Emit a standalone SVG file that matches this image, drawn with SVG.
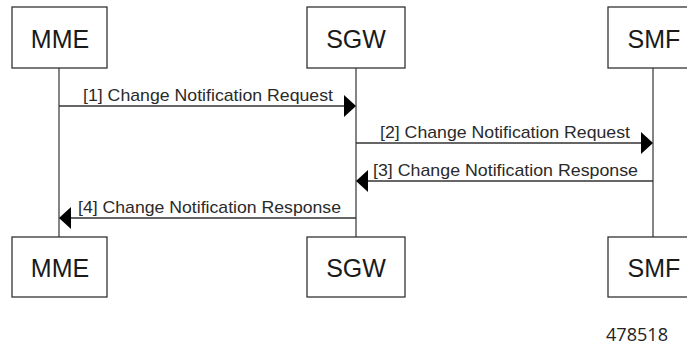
<svg xmlns="http://www.w3.org/2000/svg" width="687" height="345" viewBox="0 0 687 345">
<style>
.box{fill:#fff;stroke:#333;stroke-width:1.3}
.lbl{font-family:"Liberation Sans",Arial,sans-serif;font-size:25px;fill:#1a1a1a;text-anchor:middle}
.life{stroke:#333;stroke-width:1.2}
.msg{stroke:#333;stroke-width:1.3;fill:none}
.mt{font-family:"Liberation Sans",Arial,sans-serif;font-size:17px;fill:#2a2a2a}
.ah{fill:#000}
</style>
<rect width="687" height="345" fill="#fff"/>
<g id="lifelines">
<line class="life" x1="59" y1="68" x2="59" y2="237"/>
<line class="life" x1="356" y1="68" x2="356" y2="237"/>
<line class="life" x1="653" y1="68" x2="653" y2="237"/>
</g>
<g id="MME-top"><rect class="box" x="12" y="7" width="95" height="61"/><text class="lbl" x="60" y="48">MME</text></g>
<g id="SGW-top"><rect class="box" x="307" y="7" width="98" height="61"/><text class="lbl" x="356" y="48">SGW</text></g>
<g id="SMF-top"><rect class="box" x="608" y="7" width="90" height="61"/><text class="lbl" x="654" y="48">SMF</text></g>
<g id="MME-bottom"><rect class="box" x="12" y="237" width="95" height="60"/><text class="lbl" x="60" y="277">MME</text></g>
<g id="SGW-bottom"><rect class="box" x="307" y="237" width="98" height="60"/><text class="lbl" x="356" y="277">SGW</text></g>
<g id="SMF-bottom"><rect class="box" x="608" y="237" width="90" height="60"/><text class="lbl" x="654" y="277">SMF</text></g>
<g id="connectors">
<line class="msg" x1="59" y1="106" x2="344" y2="106"/>
<polygon class="ah" points="356,106 344,95 344,117"/>
<text class="mt" x="83" y="101" textLength="250" lengthAdjust="spacingAndGlyphs">[1] Change Notification Request</text>
<line class="msg" x1="356" y1="143" x2="641" y2="143"/>
<polygon class="ah" points="653,143 641,132 641,154"/>
<text class="mt" x="380" y="138" textLength="250" lengthAdjust="spacingAndGlyphs">[2] Change Notification Request</text>
<line class="msg" x1="653" y1="181" x2="368" y2="181"/>
<polygon class="ah" points="356,181 368,170 368,192"/>
<text class="mt" x="373" y="176" textLength="265" lengthAdjust="spacingAndGlyphs">[3] Change Notification Response</text>
<line class="msg" x1="356" y1="218" x2="71" y2="218"/>
<polygon class="ah" points="59,218 71,207 71,229"/>
<text class="mt" x="78" y="213" textLength="263" lengthAdjust="spacingAndGlyphs">[4] Change Notification Response</text>
</g>
<text x="606" y="341" font-family="'Open Sans','Liberation Sans',sans-serif" font-size="18" fill="#222" textLength="62" lengthAdjust="spacingAndGlyphs">478518</text>
</svg>
